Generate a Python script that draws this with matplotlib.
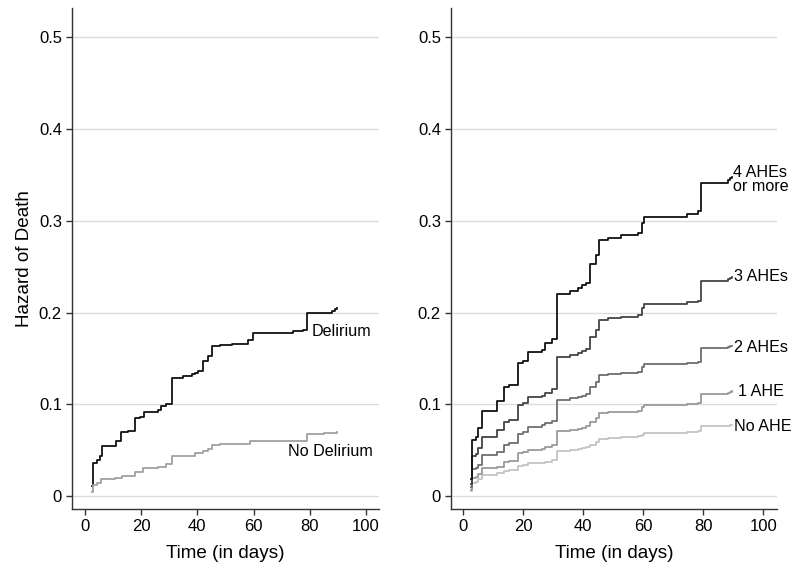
import matplotlib
matplotlib.use('Agg')
import matplotlib.pyplot as plt

plt.rcParams['font.family'] = ['Liberation Sans', 'DejaVu Sans']

# left panel: delirium vs no delirium
t_delir = [2.4, 3.0, 4.4, 5.3, 6.0, 11.0, 13.0, 15.4, 18.0, 19.6, 21.1, 26.1, 27.0, 28.8, 31.0, 35.0,
           38.0, 39.1, 40.3, 42.1, 43.7, 45.2, 48.0, 52.2, 58.1, 59.9, 74.1, 77.5, 78.9, 87.8, 89.0, 89.8]
h_delir = [0.011, 0.036, 0.039, 0.044, 0.055, 0.060, 0.0695, 0.071, 0.0847, 0.0865, 0.0916, 0.0938, 0.098,
           0.100, 0.129, 0.131, 0.1327, 0.1345, 0.1366, 0.1476, 0.1527, 0.163, 0.1647, 0.166, 0.170, 0.178,
           0.180, 0.181, 0.200, 0.2017, 0.2036, 0.205]
t_nodelir = [2.4, 3.0, 4.2, 5.9, 10.7, 13.1, 17.8, 20.8, 26.1, 28.8, 31.0, 39.1, 42.0, 43.7, 45.2, 48.0,
             58.7, 78.9, 85.0, 89.8]
h_nodelir = [0.004, 0.012, 0.014, 0.018, 0.020, 0.022, 0.026, 0.030, 0.032, 0.0346, 0.0436, 0.0465, 0.049,
             0.0515, 0.056, 0.057, 0.060, 0.068, 0.069, 0.070]

# right panel: number of AHEs
t_ahe = [2.4, 3.0, 4.1, 5.0, 6.3, 11.3, 13.6, 15.2, 18.3, 20.0, 21.5, 26.3, 27.2, 29.5, 31.3, 35.6, 38.3,
         39.5, 40.8, 42.2, 44.1, 45.2, 48.3, 52.5, 58.3, 59.5, 60.3, 74.5, 78.3, 79.2, 88.3, 89.0, 89.6]
h_ahe4 = [0.019, 0.061, 0.064, 0.074, 0.093, 0.103, 0.1185, 0.121, 0.1447, 0.1476, 0.157, 0.159, 0.167,
          0.171, 0.220, 0.224, 0.2265, 0.230, 0.2326, 0.2527, 0.263, 0.279, 0.2817, 0.2846, 0.2865, 0.298,
          0.3046, 0.307, 0.311, 0.3417, 0.344, 0.347, 0.348]
h_ahe3 = [0.013, 0.0436, 0.046, 0.052, 0.064, 0.072, 0.081, 0.083, 0.099, 0.101, 0.1076, 0.109, 0.1127,
          0.117, 0.151, 0.1538, 0.1556, 0.158, 0.160, 0.173, 0.181, 0.192, 0.194, 0.1955, 0.197, 0.2047,
          0.2094, 0.211, 0.213, 0.2345, 0.236, 0.238, 0.239]
h_ahe2 = [0.010, 0.029, 0.030, 0.034, 0.0447, 0.048, 0.0556, 0.0574, 0.068, 0.070, 0.0756, 0.0774, 0.080,
          0.082, 0.1047, 0.1065, 0.1076, 0.109, 0.111, 0.119, 0.1247, 0.1316, 0.133, 0.134, 0.135, 0.1405,
          0.1436, 0.145, 0.1465, 0.161, 0.162, 0.163, 0.164]
h_ahe1 = [0.007, 0.020, 0.021, 0.024, 0.030, 0.032, 0.0374, 0.038, 0.0465, 0.048, 0.050, 0.051, 0.0538,
          0.0556, 0.071, 0.072, 0.073, 0.0745, 0.076, 0.081, 0.085, 0.090, 0.091, 0.092, 0.093, 0.0975,
          0.099, 0.100, 0.101, 0.111, 0.112, 0.113, 0.114]
h_ahe0 = [0.005, 0.0138, 0.0156, 0.018, 0.023, 0.0247, 0.0276, 0.028, 0.0327, 0.034, 0.0356, 0.036, 0.0374,
          0.039, 0.049, 0.050, 0.051, 0.052, 0.053, 0.0556, 0.059, 0.0618, 0.063, 0.064, 0.065, 0.067,
          0.069, 0.070, 0.0705, 0.076, 0.0765, 0.077, 0.077]

yticks = [0, 0.1, 0.2, 0.3, 0.4, 0.5]
ytick_labels = ['0', '0.1', '0.2', '0.3', '0.4', '0.5']
xticks = [0, 20, 40, 60, 80, 100]


def style_axis(ax, xlim):
    ax.set_xlim(*xlim)
    ax.set_ylim(-0.0142, 0.532)
    ax.set_yticks(yticks)
    ax.set_yticklabels(ytick_labels)
    ax.set_xticks(xticks)
    for y in yticks:
        ax.axhline(y, color='#dcdcdc', lw=1.0, zorder=0)
    for s in ['top', 'right']:
        ax.spines[s].set_visible(False)
    for s in ['left', 'bottom']:
        ax.spines[s].set_color('#333333')
        ax.spines[s].set_linewidth(1.0)
    ax.tick_params(direction='out', length=4, width=1, color='#333333', labelsize=12, pad=3)
    ax.set_xlabel('Time (in days)', fontsize=13.6, labelpad=8)


fig = plt.figure(figsize=(8, 5.71), dpi=100)

ax1 = fig.add_axes([0.0896, 0.1086, 0.3841, 0.8774])
style_axis(ax1, (-4.7, 104.6))
ax1.step(t_delir, h_delir, where='post', color='#111111', lw=1.3)
ax1.step(t_nodelir, h_nodelir, where='post', color='#a0a0a0', lw=1.3)
ax1.text(80.6, 0.179, 'Delirium', fontsize=11.6, va='center', ha='left')
ax1.text(72.2, 0.049, 'No Delirium', fontsize=11.6, va='center', ha='left')
ax1.set_ylabel('Hazard of Death', fontsize=13.6, labelpad=4)

ax2 = fig.add_axes([0.5634, 0.1086, 0.4079, 0.8774])
style_axis(ax2, (-4.2, 104.6))
series = [(h_ahe0, '#c4c4c4'), (h_ahe1, '#9a9a9a'), (h_ahe2, '#6e6e6e'),
          (h_ahe3, '#444444'), (h_ahe4, '#111111')]
for vals, col in series:
    ax2.step(t_ahe, vals, where='post', color=col, lw=1.3)
ax2.text(89.9, 0.345, '4 AHEs\nor more', fontsize=11.6, va='center', ha='left', linespacing=0.95)
ax2.text(90.2, 0.239, '3 AHEs', fontsize=11.6, va='center', ha='left')
ax2.text(90.2, 0.162, '2 AHEs', fontsize=11.6, va='center', ha='left')
ax2.text(91.6, 0.1137, '1 AHE', fontsize=11.6, va='center', ha='left')
ax2.text(90.2, 0.0755, 'No AHE', fontsize=11.6, va='center', ha='left')

fig.savefig('out.png', dpi=100)
